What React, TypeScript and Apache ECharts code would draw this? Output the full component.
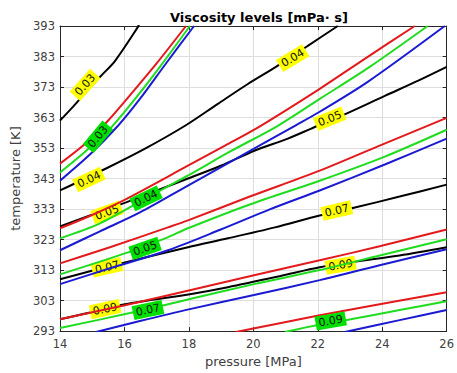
import React, { useEffect, useRef } from "react";
import * as echarts from "echarts";

// axis ranges / ticks
const pressureTicks = [14, 16, 18, 20, 22, 24, 26];
const temperatureTicks = [293, 303, 313, 323, 333, 343, 353, 363, 373, 383, 393];

// contour lines: [pressure MPa, temperature K]
const black003 = [[14, 362.0], [14.4, 366.5], [15.24, 376.3], [15.71, 381.6], [16.42, 392.7], [16.45, 393.5]];
const black004 = [[14, 339.1], [15.43, 346.3], [16.64, 352.8], [17.88, 360.3], [18.9, 367.5], [19.83, 374.0], [20.7, 379.6], [21.69, 386.5], [22.62, 393]];
const black005 = [[14, 327.3], [14.93, 330.9], [16.05, 335.2], [17.97, 343.0], [18.99, 347.2], [20.05, 352.2], [21.07, 356.1], [21.78, 359.3], [22.87, 364.2], [24.08, 370.1], [25.1, 375.0], [26, 379.6]];
const black007 = [[14, 310.0], [14.93, 312.6], [15.89, 315.2], [17.97, 320.5], [19.21, 323.4], [20.67, 327.0], [22.06, 330.9], [23.15, 333.5], [24.54, 337.1], [26, 341.0]];
const black009 = [[14, 296.9], [14.87, 298.9], [16.02, 301.8], [18.03, 305.1], [19.21, 307.4], [20.82, 311.0], [22.06, 313.9], [23.24, 315.9], [24.54, 317.8], [26, 320.5]];

const red003 = [[14, 347.9], [14.78, 354.4], [15.46, 361.6], [16.26, 371.4], [17.01, 380.9], [17.91, 393]];
const red004 = [[14, 326.7], [14.96, 330.9], [16.02, 336.1], [17.97, 347.2], [19.12, 353.8], [20.23, 360.3], [22.06, 372.4], [23.55, 382.9], [25.01, 393]];
const red005 = [[14, 315.2], [15.55, 320.5], [17.35, 327.0], [17.97, 329.3], [19.89, 337.1], [22.06, 345.6], [23.92, 353.8], [26, 362.9]];
const red007 = [[14, 296.9], [16.02, 301.5], [18.03, 306.4], [20.02, 311.3], [22.06, 316.2], [23.92, 320.8], [26, 326.3]];
const red009 = [[19.46, 292.7], [20.82, 295.6], [22.06, 298.2], [23.92, 301.8], [26, 305.7]];

const green003 = [[14, 345.0], [14.78, 351.8], [15.55, 359.3], [16.33, 369.1], [17.1, 379.6], [18.03, 393]];
const green004 = [[14, 323.4], [15.24, 328.3], [16.67, 336.5], [17.97, 344.0], [19.27, 351.8], [20.76, 360.3], [22.06, 369.1], [23.61, 379.6], [25.41, 393]];
const green005 = [[14, 311.6], [16.11, 318.8], [17.26, 323.4], [17.97, 326.7], [19.89, 334.5], [22.06, 342.3], [24.08, 350.2], [26, 359.0]];
const green007 = [[14, 294.0], [16.17, 298.9], [17.35, 301.8], [18.03, 303.5], [20.02, 308.4], [22.06, 313.0], [23.92, 317.8], [26, 323.1]];
const green009 = [[20.98, 292.7], [22.0, 295.0], [23.02, 296.9], [24.54, 299.9], [26, 302.8]];

const blue003 = [[14, 342.3], [14.96, 351.2], [15.8, 360.3], [16.48, 369.1], [17.26, 380.3], [18.16, 393]];
const blue004 = [[14, 319.5], [15.24, 325.7], [16.48, 331.9], [17.97, 340.7], [19.58, 350.2], [21.29, 360.3], [22.06, 364.9], [23.55, 374.7], [25.94, 393]];
const blue005 = [[14, 308.4], [15.55, 313.6], [17.35, 319.5], [18.99, 326.3], [20.51, 332.9], [22.06, 339.1], [24.08, 347.6], [26, 356.1]];
const blue007 = [[15.12, 292.7], [16.48, 296.3], [18.03, 300.2], [20.02, 304.8], [22.06, 309.7], [23.92, 314.6], [26, 319.8]];
const blue009 = [[22.84, 292.7], [24.54, 296.6], [26, 299.9]];

// contour labels (text, anchor in data units, angle)
const blackLabelText = ["0.03", "0.04", "0.04", "0.05", "0.05", "0.07", "0.07", "0.09", "0.09"];
const blackLabelAt = [[14.78, 373.7], [14.9, 342.7], [21.22, 382.5], [15.46, 331.9], [22.37, 362.6], [15.46, 313.9], [22.59, 332.5], [15.4, 300.2], [22.71, 314.6]];
const blackLabelAngle = [48, 25, 31, 20, 22, 13, 13, 12, 10];
const greenLabelText = ["0.03", "0.04", "0.05", "0.07", "0.09"];
const greenLabelAt = [[15.18, 356.7], [16.67, 336.5], [16.64, 320.1], [16.73, 299.9], [22.4, 296.3]];
const greenLabelAngle = [50, 26, 19, 12, 10];

const FONT = "DejaVu Sans";

function labelMarks(texts: string[], at: number[][], angles: number[], bg: string, z: number) {
  return {
    symbol: "rect",
    symbolSize: 1,
    silent: true,
    z,
    itemStyle: { color: "rgba(0,0,0,0)" },
    label: {
      show: true,
      position: "inside",
      color: "#111",
      fontSize: 11,
      fontFamily: FONT,
      backgroundColor: bg,
      padding: [2, 3, 1, 3],
    },
    data: texts.map((t, i) => ({
      coord: at[i],
      value: t,
      label: { rotate: angles[i], formatter: t },
    })),
  };
}

function contour(data: number[][], color: string, z: number, extra: any = {}) {
  return {
    type: "line",
    data,
    symbol: "none",
    smooth: 0.3,
    z,
    clip: true,
    silent: true,
    lineStyle: { color, width: 2 },
    ...extra,
  };
}

export default function App() {
  const ref = useRef<HTMLDivElement>(null);
  useEffect(() => {
    if (!ref.current) return;
    const chart = echarts.init(ref.current, undefined, { renderer: "svg" });
    const axisColor = "#262626";
    const labelColor = "#404040";
    const RED = "#e3191c";
    const GREEN = "#1fdc1f";
    const BLUE = "#1a1ad2";
    chart.setOption({
      animation: false,
      backgroundColor: "#ffffff",
      title: {
        text: "Viscosity levels [mPa\u00b7 s]",
        left: 254,
        textAlign: "center",
        top: 6,
        textStyle: { fontFamily: FONT, fontSize: 13, fontWeight: "bold", color: "#000" },
      },
      grid: { left: 60, top: 26, right: 9, bottom: 41, containLabel: false },
      xAxis: [
        {
          type: "value",
          min: pressureTicks[0],
          max: pressureTicks[pressureTicks.length - 1],
          interval: pressureTicks[1] - pressureTicks[0],
          name: "pressure [MPa]",
          nameLocation: "middle",
          nameGap: 21,
          nameTextStyle: { fontFamily: FONT, fontSize: 13, color: labelColor },
          axisLine: { show: true, lineStyle: { color: axisColor, width: 1 } },
          axisTick: { show: true, inside: true, length: 4, lineStyle: { color: axisColor } },
          axisLabel: { color: labelColor, fontFamily: FONT, fontSize: 11.5, margin: 7 },
          splitLine: { show: true, lineStyle: { color: "#dedede", width: 1 } },
        },
        {
          type: "value",
          position: "top",
          min: pressureTicks[0],
          max: pressureTicks[pressureTicks.length - 1],
          interval: pressureTicks[1] - pressureTicks[0],
          axisLine: { show: true, lineStyle: { color: axisColor, width: 1 } },
          axisTick: { show: true, inside: true, length: 4, lineStyle: { color: axisColor } },
          axisLabel: { show: false },
          splitLine: { show: false },
        },
      ],
      yAxis: [
        {
          type: "value",
          min: temperatureTicks[0],
          max: temperatureTicks[temperatureTicks.length - 1],
          interval: temperatureTicks[1] - temperatureTicks[0],
          name: "temperature [K]",
          nameLocation: "middle",
          nameGap: 33,
          nameTextStyle: { fontFamily: FONT, fontSize: 13, color: labelColor },
          axisLine: { show: true, lineStyle: { color: axisColor, width: 1 } },
          axisTick: { show: true, inside: true, length: 4, lineStyle: { color: axisColor } },
          axisLabel: { color: labelColor, fontFamily: FONT, fontSize: 11.5, margin: 5 },
          splitLine: { show: true, lineStyle: { color: "#dedede", width: 1 } },
        },
        {
          type: "value",
          position: "right",
          min: temperatureTicks[0],
          max: temperatureTicks[temperatureTicks.length - 1],
          interval: temperatureTicks[1] - temperatureTicks[0],
          axisLine: { show: true, lineStyle: { color: axisColor, width: 1 } },
          axisTick: { show: true, inside: true, length: 4, lineStyle: { color: axisColor } },
          axisLabel: { show: false },
          splitLine: { show: false },
        },
      ],
      series: [
        contour(black003, "#000", 2, {
          markPoint: labelMarks(blackLabelText, blackLabelAt, blackLabelAngle, "#ffff00", 3),
        }),
        contour(black004, "#000", 2),
        contour(black005, "#000", 2),
        contour(black007, "#000", 2),
        contour(black009, "#000", 2),
        contour(red003, RED, 4),
        contour(red004, RED, 4),
        contour(red005, RED, 4),
        contour(red007, RED, 4),
        contour(red009, RED, 4),
        contour(green003, GREEN, 4, {
          markPoint: labelMarks(greenLabelText, greenLabelAt, greenLabelAngle, "#00e000", 6),
        }),
        contour(green004, GREEN, 4),
        contour(green005, GREEN, 4),
        contour(green007, GREEN, 4),
        contour(green009, GREEN, 4),
        contour(blue003, BLUE, 4),
        contour(blue004, BLUE, 4),
        contour(blue005, BLUE, 4),
        contour(blue007, BLUE, 4),
        contour(blue009, BLUE, 4),
      ],
    });
    return () => chart.dispose();
  }, []);
  return (
    <div
      ref={ref}
      style={{ position: "fixed", left: 0, top: 0, width: 457, height: 373, background: "#fff" }}
    />
  );
}
